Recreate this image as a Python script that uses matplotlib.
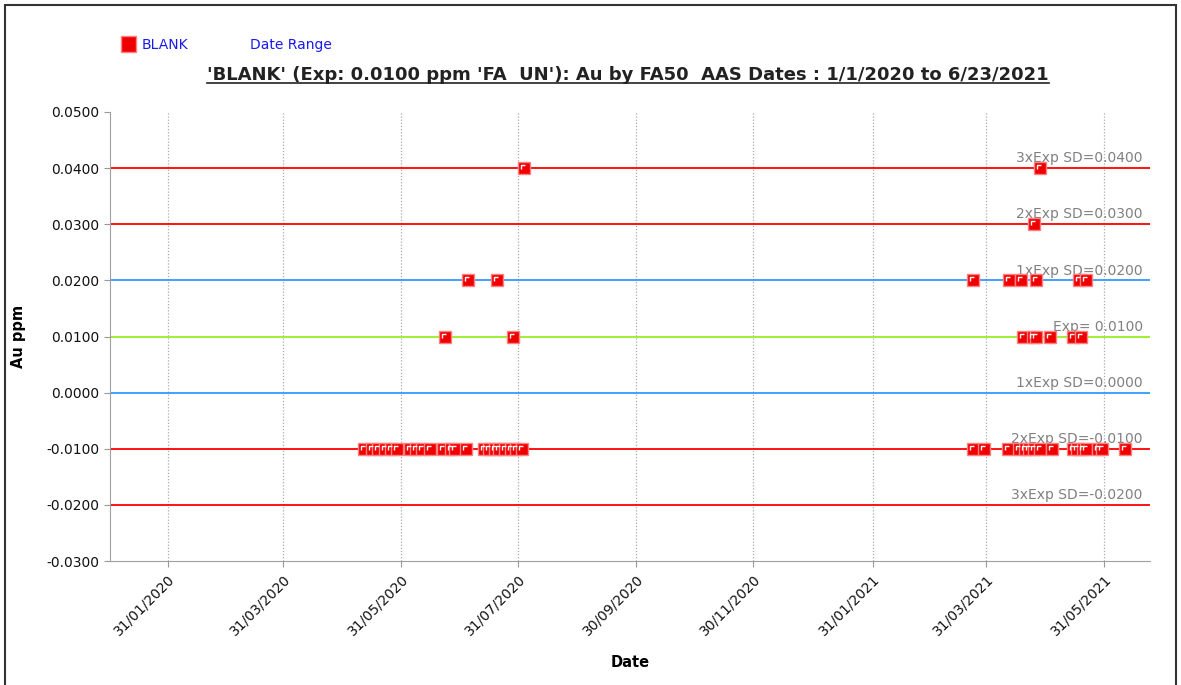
import matplotlib
matplotlib.use("Agg")
import matplotlib.pyplot as plt
import matplotlib.dates as mdates
from matplotlib.path import Path
from matplotlib.patches import Rectangle
import numpy as np
import pandas as pd

plt.rcParams['font.family'] = ['DejaVu Sans']

# ---- data ----
blank_dates = [
    "2020-05-12", "2020-05-16", "2020-05-19", "2020-05-23", "2020-05-26", "2020-05-29",
    "2020-06-05", "2020-06-08", "2020-06-11", "2020-06-15",
    "2020-06-22", "2020-06-26", "2020-06-28", "2020-07-04",
    "2020-07-13", "2020-07-16", "2020-07-19", "2020-07-21", "2020-07-24", "2020-07-27",
    "2020-07-30", "2020-08-02",
    "2020-06-23", "2020-07-05", "2020-07-20", "2020-07-28", "2020-08-03",
    "2021-03-24", "2021-03-30", "2021-04-11", "2021-04-17", "2021-04-20", "2021-04-22",
    "2021-04-25", "2021-04-28", "2021-05-04", "2021-05-15", "2021-05-17", "2021-05-20",
    "2021-05-22", "2021-05-28", "2021-05-30", "2021-06-11",
    "2021-04-19", "2021-04-24", "2021-04-26", "2021-05-03", "2021-05-15", "2021-05-19",
    "2021-03-24", "2021-04-12", "2021-04-18", "2021-04-26", "2021-05-18", "2021-05-22",
    "2021-04-25", "2021-04-28",
]
blank_values = [
    -0.01, -0.01, -0.01, -0.01, -0.01, -0.01,
    -0.01, -0.01, -0.01, -0.01,
    -0.01, -0.01, -0.01, -0.01,
    -0.01, -0.01, -0.01, -0.01, -0.01, -0.01,
    -0.01, -0.01,
    0.01, 0.02, 0.02, 0.01, 0.04,
    -0.01, -0.01, -0.01, -0.01, -0.01, -0.01,
    -0.01, -0.01, -0.01, -0.01, -0.01, -0.01,
    -0.01, -0.01, -0.01, -0.01,
    0.01, 0.01, 0.01, 0.01, 0.01, 0.01,
    0.02, 0.02, 0.02, 0.02, 0.02, 0.02,
    0.03, 0.04,
]

ref_values = [0.04, 0.03, 0.02, 0.01, 0.0, -0.01, -0.02]
ref_labels = ["3xExp SD=0.0400", "2xExp SD=0.0300", "1xExp SD=0.0200", "Exp= 0.0100",
              "1xExp SD=0.0000", "2xExp SD=-0.0100", "3xExp SD=-0.0200"]
ref_colors = ["#ff0000", "#ff0000", "#3399ff", "#99ee22", "#3399ff", "#ff0000", "#ff0000"]

tick_dates = ["2020-01-31", "2020-03-31", "2020-05-31", "2020-07-31", "2020-09-30",
              "2020-11-30", "2021-01-31", "2021-03-31", "2021-05-31"]
y_ticks = [0.05, 0.04, 0.03, 0.02, 0.01, 0.0, -0.01, -0.02, -0.03]
x_start, x_end = "2020-01-01", "2021-06-24"

title = "'BLANK' (Exp: 0.0100 ppm 'FA  UN'): Au by FA50  AAS Dates : 1/1/2020 to 6/23/2021"

# ---- figure ----
fig = plt.figure(figsize=(11.81, 6.85), dpi=100)
ax = fig.add_axes([0.0931, 0.181, 0.8807, 0.6555])

xd = pd.to_datetime(blank_dates)
ax.set_xlim(pd.Timestamp(x_start), pd.Timestamp(x_end))
ax.set_ylim(-0.03, 0.05)

# vertical dotted grid
for d in tick_dates:
    ax.axvline(pd.Timestamp(d), color="#aaaaaa", linestyle=(0, (1, 1.5)), linewidth=0.9, zorder=1)

for v, lab, c in zip(ref_values, ref_labels, ref_colors):
    ax.axhline(v, color=c, linewidth=1.3, zorder=2)
    ax.text(0.993, v + 0.0005, lab, transform=ax.get_yaxis_transform(), ha="right", va="bottom",
            color="#808080", fontsize=10, zorder=3)

ax.plot(xd, blank_values, linestyle="none", marker="s", markersize=8,
        markerfacecolor="#ee0000", markeredgecolor="#ff8080", markeredgewidth=1.0, zorder=4)
corner = Path([(-0.45, -0.1), (-0.45, 0.45), (0.1, 0.45)],
              [Path.MOVETO, Path.LINETO, Path.LINETO])
ax.plot(xd, blank_values, linestyle="none", marker=corner, markersize=4.5,
        markerfacecolor="none", markeredgecolor="white", markeredgewidth=1.0, zorder=5)

ax.set_xticks([pd.Timestamp(d) for d in tick_dates])
ax.xaxis.set_major_formatter(mdates.DateFormatter("%d/%m/%Y"))
ax.set_yticks(y_ticks)
ax.yaxis.set_major_formatter(matplotlib.ticker.FormatStrFormatter("%.4f"))
for lbl in ax.get_xticklabels():
    lbl.set_rotation(45)
    lbl.set_ha("right")
    lbl.set_rotation_mode("anchor")
ax.tick_params(axis="both", labelsize=10, colors="#999999", labelcolor="#111111",
               length=4, width=0.8)
ax.tick_params(axis="x", pad=4)

for s in ["top", "right"]:
    ax.spines[s].set_visible(False)
for s in ["left", "bottom"]:
    ax.spines[s].set_color("#a0a0a0")

ax.set_xlabel("Date", fontsize=10.5, fontweight="bold")
ax.set_ylabel("Au ppm", fontsize=10.5, fontweight="bold")
ax.xaxis.set_label_coords(0.5, -0.21)
ax.yaxis.set_label_coords(-0.081, 0.5)

t = fig.text(0.532, 0.878, title, ha="center", va="bottom", fontsize=13, fontweight="bold",
             color="#222222")
fig.canvas.draw()
bb = t.get_window_extent().transformed(fig.transFigure.inverted())
fig.add_artist(matplotlib.lines.Line2D([bb.x0, bb.x1], [bb.y0 + 0.001, bb.y0 + 0.001],
                                       color="#222222", linewidth=1.2,
                                       transform=fig.transFigure))

# legend
fig.add_artist(Rectangle((0.1025, 0.924), 0.0125, 0.024, transform=fig.transFigure,
                         facecolor="#ee0000", edgecolor="#ff8080", linewidth=1))
fig.text(0.12, 0.935, "BLANK", color="#1a1aee", fontsize=10, va="center")
fig.text(0.212, 0.935, "Date Range", color="#1a1aee", fontsize=10, va="center")

# outer frame
fig.add_artist(Rectangle((0.004, -0.01), 0.992, 1.002, transform=fig.transFigure,
                         facecolor="none", edgecolor="#333333", linewidth=1.5))

fig.savefig("out.png", dpi=100)
